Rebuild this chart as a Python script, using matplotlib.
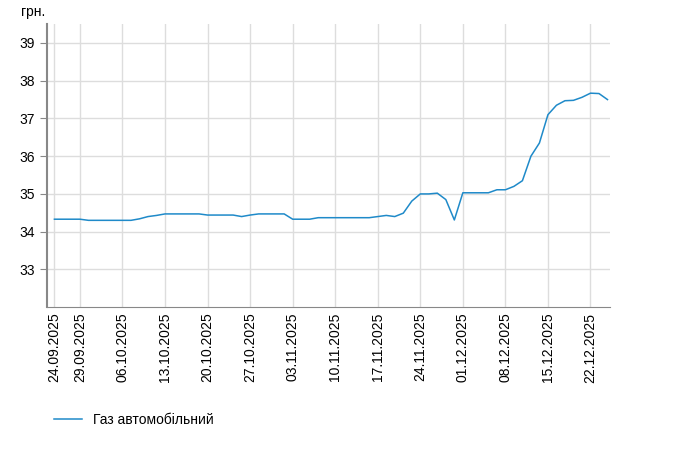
import matplotlib
matplotlib.use("Agg")
import matplotlib.pyplot as plt
import pandas as pd

dates = pd.bdate_range("2025-09-24", "2025-12-24")
values = [34.33, 34.33, 34.33, 34.33, 34.30, 34.30, 34.30, 34.30, 34.30, 34.30,
          34.34, 34.40, 34.43, 34.47, 34.47, 34.47, 34.47, 34.47, 34.44, 34.44,
          34.44, 34.44, 34.40, 34.44, 34.47, 34.47, 34.47, 34.47, 34.33, 34.33,
          34.33, 34.37, 34.37, 34.37, 34.37, 34.37, 34.37, 34.37, 34.40, 34.43,
          34.40, 34.49, 34.81, 35.00, 35.00, 35.02, 34.85, 34.31, 35.03, 35.03,
          35.03, 35.03, 35.11, 35.11, 35.20, 35.35, 36.00, 36.35, 37.10, 37.35,
          37.47, 37.48, 37.56, 37.67, 37.66, 37.50]
values = values[:len(dates)]
labels = [d.strftime("%d.%m.%Y") for d in dates]
tick_idx = [0] + [i for i, d in enumerate(dates) if d.weekday() == 0]
series_name = "Газ автомобільний"

fig = plt.figure(figsize=(6.98, 4.55), dpi=100)
ax = fig.add_axes([0.067, 0.325, 0.807, 0.622])
x = list(range(len(values)))
ax.plot(x, values, color="#1f8ac9", lw=1.1, label=series_name)
ax.set_xlim(-0.9, len(values) - 1 + 0.3)
ax.set_ylim(32, 39.5)
ax.set_yticks([33, 34, 35, 36, 37, 38, 39])
ax.set_xticks(tick_idx)
ax.set_xticklabels([labels[i] for i in tick_idx], rotation=90, fontsize=10, family="Liberation Sans")
for t in ax.get_yticklabels():
    t.set_fontsize(10); t.set_family("Liberation Sans")
ax.grid(True, color="#dddddd", lw=1)
ax.set_axisbelow(True)
for s in ["top", "right"]:
    ax.spines[s].set_visible(False)
ax.spines["bottom"].set_color("#888888")
ax.spines["left"].set_color("#888888")
ax.spines["left"].set_linewidth(1.5)
ax.tick_params(axis="x", length=0, pad=4)
ax.tick_params(axis="y", length=5, color="#888888")
fig.text(0.03, 0.965, "грн.", fontsize=10, family="Liberation Sans")
fig.legend(loc="lower left", bbox_to_anchor=(0.06, 0.035), frameon=False,
           prop={"family": "Liberation Sans", "size": 10}, handlelength=2)
fig.savefig("out.png", dpi=100)
